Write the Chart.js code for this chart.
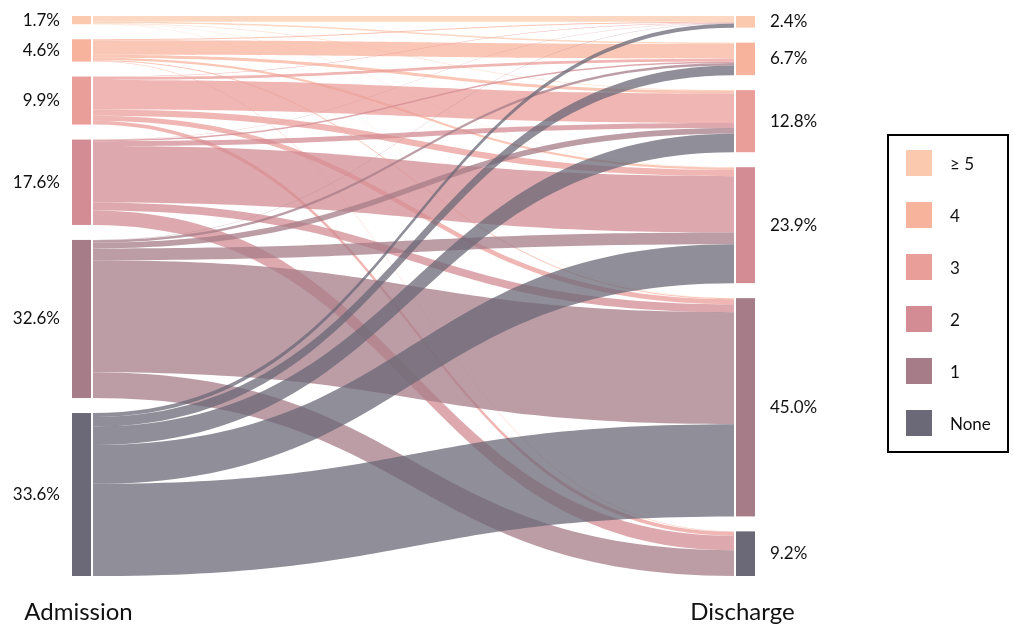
<!DOCTYPE html>
<html>
<head>
<meta charset="utf-8">
<script src="https://cdn.jsdelivr.net/npm/chart.js@4/dist/chart.umd.min.js"></script>
<style>
  body { margin: 0; background: #fff; }
  #wrap { position: relative; width: 1013px; height: 628px; font-family: Lato, "Noto Sans", sans-serif; }
  #legend { position: absolute; left: 887px; top: 134px; width: 122px; height: 319px; border: 2px solid #000; box-sizing: border-box; }
  .item { position: absolute; left: 17px; height: 26px; display: flex; align-items: center; font-size: 17px; color: #111; }
  .sw { width: 26px; height: 26px; margin-right: 18px; }
</style>
</head>
<body>
<div id="wrap">
  <canvas id="sankey" width="1013" height="628"></canvas>
  <div id="legend"></div>
</div>
<script>
const levels = ["≥ 5", "4", "3", "2", "1", "None"]
const admission = [1.7, 4.6, 9.9, 17.6, 32.6, 33.6]
const discharge = [2.4, 6.7, 12.8, 23.9, 45.0, 9.2]

// share of patients going from each admission level to each discharge level
const fromFive  = [1.2, 0.3, 0.1, 0.05, 0.05, 0]
const fromFour  = [0.2, 3.0, 0.6, 0.5, 0.2, 0.1]
const fromThree = [0.1, 0.6, 6.1, 1.3, 1.0, 0.8]
const fromTwo   = [0.05, 0.3, 1.0, 11.6, 1.65, 3.0]
const fromOne   = [0.05, 0.5, 1.2, 2.45, 23.1, 5.3]
const fromNone  = [0.8, 2.0, 3.8, 8.0, 19.0, 0]
const flows = [fromFive, fromFour, fromThree, fromTwo, fromOne, fromNone]

const colors = ["#fbc9ae", "#f8b39d", "#ea9e9a", "#d38c93", "#a57c88", "#6b6877"]
const nodePad = 3.093
const nodeWidth = 19
const total = 100 + nodePad * (levels.length - 1)

function rgba(hex, a) {
    const n = parseInt(hex.slice(1), 16)
    return "rgba(" + (n >> 16) + "," + ((n >> 8) & 255) + "," + (n & 255) + "," + a + ")"
}

function starts(values) {
    let y = 0
    return values.map(v => { const s = y; y += v + nodePad; return s })
}

const sankeyPlugin = {
    id: "sankey",
    afterDraw(chart) {
        const c = chart.ctx
        const xs = chart.scales.x
        const ys = chart.scales.y
        const left = xs.getPixelForValue(0)
        const right = xs.getPixelForValue(1)
        const x0 = left + nodeWidth + 2
        const x1 = right - nodeWidth - 2
        const xm = (x0 + x1) / 2
        const py = v => ys.getPixelForValue(v)

        const srcStart = starts(admission)
        const dstStart = starts(discharge)
        const srcCur = srcStart.slice()
        const dstCur = dstStart.slice()

        // flows: ordered by target on the left, by source on the right
        let links = []
        flows.forEach((row, i) => {
            row.forEach((v, j) => {
                if (v <= 0) return
                links.push({ i: i, j: j, v: v, s0: srcCur[i] })
                srcCur[i] += v
            })
        })
        links.forEach(l => {
            // target position assigned by source order
        })
        for (let j = 0; j < levels.length; j++) {
            for (let i = 0; i < levels.length; i++) {
                const l = links.find(k => k.i === i && k.j === j)
                if (!l) continue
                l.t0 = dstCur[j]
                dstCur[j] += l.v
            }
        }

        c.save()
        links.forEach(l => {
            const a0 = py(l.s0), a1 = py(l.s0 + l.v)
            const b0 = py(l.t0), b1 = py(l.t0 + l.v)
            c.beginPath()
            c.moveTo(x0, a0)
            c.bezierCurveTo(xm, a0, xm, b0, x1, b0)
            c.lineTo(x1, b1)
            c.bezierCurveTo(xm, b1, xm, a1, x0, a1)
            c.closePath()
            c.fillStyle = rgba(colors[l.i], 0.75)
            c.fill()
        })

        // nodes and percentage labels
        c.font = "17px Lato, 'Noto Sans', sans-serif"
        c.fillStyle = "#111"
        c.textBaseline = "middle"
        levels.forEach((lv, i) => {
            const ta = py(srcStart[i]), ba = py(srcStart[i] + admission[i])
            c.fillStyle = colors[i]
            c.fillRect(left, ta, nodeWidth, ba - ta)
            const tb = py(dstStart[i]), bb = py(dstStart[i] + discharge[i])
            c.fillRect(right - nodeWidth, tb, nodeWidth, bb - tb)

            c.fillStyle = "#111"
            c.textAlign = "right"
            c.fillText(admission[i].toFixed(1) + "%", left - 12, (ta + ba) / 2)
            c.textAlign = "left"
            c.fillText(discharge[i].toFixed(1) + "%", right + 15, (tb + bb) / 2)
        })

        c.font = "24px Lato, 'Noto Sans', sans-serif"
        c.textAlign = "center"
        c.fillText("Admission", left + nodeWidth / 2 - 3, 612)
        c.fillText("Discharge", right - nodeWidth / 2 - 3, 612)
        c.restore()
    }
}

new Chart(document.getElementById("sankey"), {
    type: "scatter",
    data: { datasets: [] },
    options: {
        responsive: false,
        animation: false,
        layout: { padding: { left: 72, right: 258, top: 16, bottom: 52 } },
        scales: {
            x: { type: "linear", min: 0, max: 1, display: false },
            y: { type: "linear", min: 0, max: total, reverse: true, display: false }
        },
        plugins: { legend: { display: false }, tooltip: { enabled: false } }
    },
    plugins: [sankeyPlugin]
})

// legend box on the right
const legend = document.getElementById("legend")
levels.forEach((lv, i) => {
    const item = document.createElement("div")
    item.className = "item"
    item.style.top = (14 + i * 52) + "px"
    item.innerHTML = '<div class="sw" style="background:' + colors[i] + '"></div><span>' + lv + "</span>"
    legend.appendChild(item)
})
</script>
</body>
</html>
